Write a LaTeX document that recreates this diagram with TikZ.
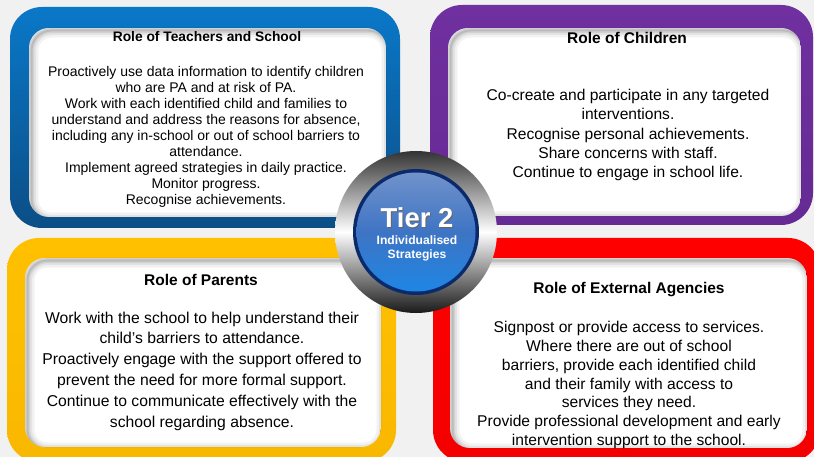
\documentclass[tikz,border=0pt]{standalone}
\usepackage{fontspec}
\setmainfont{Liberation Sans}
\definecolor{bgc}{HTML}{F1F1F1}
\definecolor{bluetop}{HTML}{0A78C8}
\definecolor{bluebot}{HTML}{0B4E86}
\definecolor{purp}{HTML}{7030A0}
\definecolor{purpd}{HTML}{652A93}
\definecolor{yell}{HTML}{FFC000}
\definecolor{yelld}{HTML}{F9B800}
\definecolor{redc}{HTML}{FF0000}
\definecolor{redd}{HTML}{F40000}
\definecolor{navyc}{HTML}{0B2A6A}
\definecolor{hubtop}{HTML}{7192CB}
\definecolor{hubmid}{HTML}{3E74C4}
\definecolor{hubbot}{HTML}{1E86E4}
\newcommand\roleframe[6]{%
  \shade[rounded corners=32pt, top color=#5, bottom color=#6] (#1) rectangle (#2);
  \begin{scope}
    \clip[rounded corners=20pt] (#3) rectangle (#4);
    \fill[white] (#3) rectangle (#4);
    \begin{scope}[shift={(2.5,2.5)}]
      \draw[rounded corners=20pt, line width=14pt, black, opacity=0.05] (#3) rectangle (#4);
      \draw[rounded corners=20pt, line width=9pt, black, opacity=0.06] (#3) rectangle (#4);
      \draw[rounded corners=20pt, line width=5pt, black, opacity=0.08] (#3) rectangle (#4);
      \draw[rounded corners=20pt, line width=2pt, black, opacity=0.10] (#3) rectangle (#4);
    \end{scope}
  \end{scope}}
\begin{document}
\begin{tikzpicture}[x=1pt,y=-1pt,
  titletext/.style={font=\bfseries\fontsize{15.5}{18}\selectfont, inner sep=0pt},
  bodytext/.style={align=center, inner sep=0pt}]
\useasboundingbox (0,0) rectangle (814,457);
\fill[bgc] (0,0) rectangle (814,457);

% frames
\roleframe{10,7}{400,228}{29,28}{386,217}{bluetop}{bluebot}
\roleframe{430,5}{813,225}{448,28}{801,216}{purp}{purpd}
\roleframe{7,238}{396,462}{25,258}{381,447}{yell}{yelld}
\roleframe{433,238}{820,462}{450,258}{807,448}{redc}{redd}

% texts
\node[titletext, font=\bfseries\fontsize{13.8}{16}\selectfont] (t1) at (207,37) {Role of Teachers and School};
\node[bodytext, font=\fontsize{14}{16}\selectfont] (b1) at (206,137) {Proactively use data information to identify children\\who are PA and at risk of PA.\\Work with each identified child and families to\\understand and address the reasons for absence,\\including any in-school or out of school barriers to\\attendance.\\Implement agreed strategies in daily practice.\\Monitor progress.\\Recognise achievements.};

\node[titletext] (t2) at (627,38) {Role of Children};
\node[bodytext, font=\fontsize{15.6}{19.2}\selectfont] (b2) at (628,135) {Co-create and participate in any targeted\\interventions.\\Recognise personal achievements.\\Share concerns with staff.\\Continue to engage in school life.};

\node[titletext] (t3) at (201,280) {Role of Parents};
\node[bodytext, font=\fontsize{15.7}{20.8}\selectfont] (b3) at (202,371) {Work with the school to help understand their\\child’s barriers to attendance.\\Proactively engage with the support offered to\\prevent the need for more formal support.\\Continue to communicate effectively with the\\school regarding absence.};

\node[titletext] (t4) at (629,290) {Role of External Agencies};
\node[bodytext, font=\fontsize{15.6}{18.7}\selectfont] (b4) at (629,385) {Signpost or provide access to services.\\Where there are out of school\\barriers, provide each identified child\\and their family with access to\\services they need.\\Provide professional development and early\\intervention support to the school.};

% hub
\node[circle, minimum size=162pt, inner sep=0pt, top color=black!80, bottom color=black!90, middle color=white] (ring) at (416,232) {};
\node[circle, minimum size=126pt, inner sep=0pt, fill=navyc] (edge) at (ring.center) {};
\node[circle, minimum size=119pt, inner sep=0pt, top color=hubtop, bottom color=hubbot, middle color=hubmid] (hub) at (ring.center) {};
\node[font=\bfseries\fontsize{27.4}{30}\selectfont, text=black!60, inner sep=0pt] (tiersh) at (418,219) {Tier 2};
\node[font=\bfseries\fontsize{27.4}{30}\selectfont, text=white, inner sep=0pt] (tier) at (417,217.5) {Tier 2};
\node[align=center, font=\bfseries\fontsize{12.1}{13.5}\selectfont, text=white, inner sep=0pt] (sub) at (417,248.5) {Individualised\\Strategies};
\end{tikzpicture}
\end{document}
